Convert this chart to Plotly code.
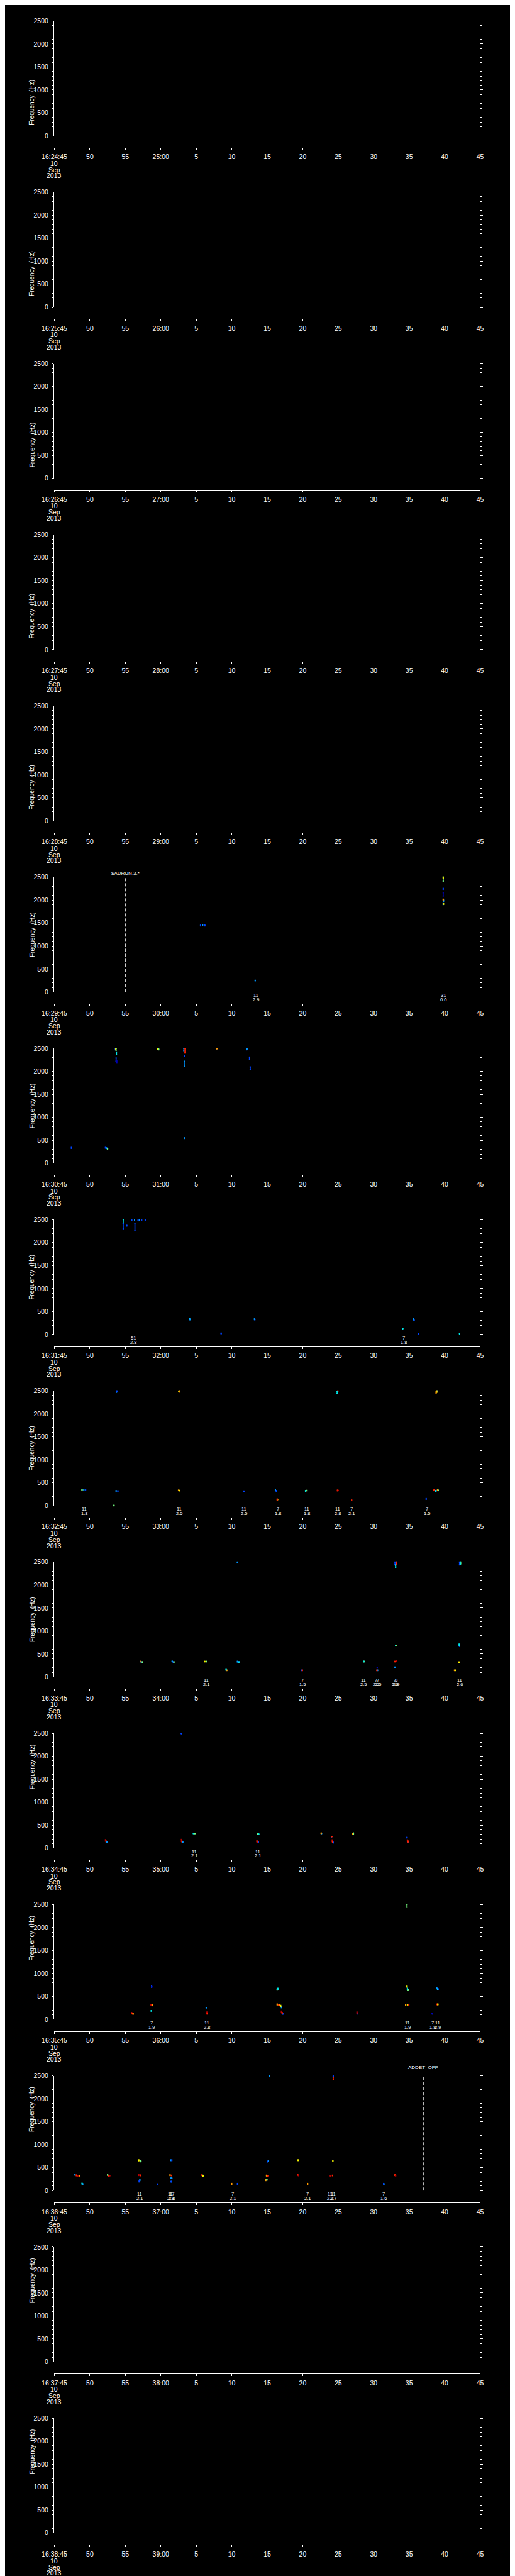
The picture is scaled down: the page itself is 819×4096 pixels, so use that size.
import plotly.graph_objects as go
from datetime import datetime, timedelta

# ---------------- data ----------------
PANEL_STARTS = [
    "2013-09-10 16:24:45", "2013-09-10 16:25:45", "2013-09-10 16:26:45",
    "2013-09-10 16:27:45", "2013-09-10 16:28:45", "2013-09-10 16:29:45",
    "2013-09-10 16:30:45", "2013-09-10 16:31:45", "2013-09-10 16:32:45",
    "2013-09-10 16:33:45", "2013-09-10 16:34:45", "2013-09-10 16:35:45",
    "2013-09-10 16:36:45", "2013-09-10 16:37:45", "2013-09-10 16:38:45",
]
FREQ_TICKS = [0, 500, 1000, 1500, 2000, 2500]

COLORS = {'db': '#0000b4', 'b': '#0044ff', 'lb': '#0096ff', 'c': '#00e6e6',
          'g': '#78ff82', 'y': '#f5f500', 'o': '#ff9a00', 'r': '#ff2200',
          'dr': '#b40000'}

# marks: (seconds after panel start, freq low, freq high, colour key)
MARKS_1629 = [
    (20.6, 1440, 1455, 'b'), (20.9, 1445, 1470, 'lb'), (21.2, 1440, 1460, 'b'),
    (28.3, 245, 255, 'lb'),
    (54.8, 2410, 2500, 'g'), (54.8, 2470, 2500, 'y'), (54.8, 2235, 2255, 'b'),
    (54.8, 2090, 2160, 'db'), (54.8, 2000, 2020, 'o'), (54.85, 1975, 2000, 'lb'),
    (54.8, 1905, 1925, 'lb'), (54.85, 1910, 1920, 'y'),
]
MARKS_1630 = [
    (2.4, 325, 345, 'b'), (7.2, 330, 345, 'b'), (7.35, 320, 335, 'lb'), (7.5, 305, 320, 'g'),
    (8.6, 2470, 2500, 'b'), (8.65, 2470, 2500, 'y'), (8.7, 2460, 2500, 'g'),
    (8.75, 2370, 2420, 'c'), (8.7, 2220, 2290, 'b'), (8.8, 2180, 2230, 'db'),
    (14.55, 2480, 2500, 'y'), (14.7, 2470, 2490, 'g'),
    (18.25, 2450, 2500, 'lb'), (18.4, 2400, 2500, 'r'), (18.3, 2325, 2340, 'b'),
    (18.3, 2110, 2220, 'lb'), (18.3, 540, 555, 'lb'),
    (22.85, 2490, 2500, 'b'), (22.9, 2490, 2500, 'o'),
    (27.1, 2470, 2500, 'b'), (27.15, 2480, 2500, 'lb'), (27.5, 2260, 2310, 'b'),
    (27.6, 2040, 2095, 'b'),
]
MARKS_1631 = [
    (9.7, 2410, 2500, 'c'), (9.7, 2300, 2410, 'b'), (10.2, 2360, 2375, 'b'),
    (10.9, 2480, 2500, 'b'), (11.3, 2480, 2500, 'lb'), (11.8, 2475, 2500, 'b'),
    (12.0, 2480, 2500, 'lb'), (12.3, 2480, 2500, 'b'), (12.8, 2480, 2500, 'b'),
    (11.35, 2265, 2410, 'b'),
    (19.05, 330, 345, 'c'), (19.1, 320, 335, 'lb'), (23.5, 15, 30, 'b'),
    (28.2, 325, 340, 'lb'), (28.25, 320, 330, 'b'), (49.1, 120, 135, 'c'),
    (50.6, 320, 345, 'lb'), (50.7, 300, 320, 'b'), (51.3, 10, 25, 'b'),
    (57.1, 10, 25, 'c'),
]
MARKS_1632 = [
    (3.9, 340, 350, 'g'), (4.15, 340, 350, 'lb'), (4.4, 340, 350, 'b'),
    (8.4, 0, 10, 'g'), (8.7, 315, 330, 'lb'), (8.95, 315, 325, 'b'),
    (8.75, 2470, 2490, 'lb'), (8.8, 2480, 2500, 'b'),
    (17.55, 2480, 2495, 'y'), (17.6, 2475, 2500, 'o'),
    (17.5, 330, 340, 'o'), (17.6, 325, 335, 'y'),
    (26.7, 305, 320, 'b'),
    (31.15, 325, 345, 'lb'), (31.3, 315, 330, 'b'),
    (31.4, 125, 145, 'r'), (31.45, 130, 140, 'y'),
    (35.4, 315, 330, 'c'), (35.6, 325, 335, 'g'),
    (39.85, 2440, 2490, 'c'), (39.95, 2480, 2500, 'r'),
    (39.9, 325, 340, 'r'), (40.0, 330, 335, 'dr'),
    (41.9, 115, 130, 'r'), (52.4, 140, 155, 'b'),
    (53.5, 330, 345, 'r'), (53.7, 315, 330, 'c'), (53.8, 320, 335, 'lb'),
    (54.0, 330, 345, 'o'), (54.1, 330, 340, 'g'),
    (53.8, 2450, 2480, 'o'), (53.9, 2470, 2500, 'y'), (54.0, 2480, 2500, 'b'),
]
MARKS_1633 = [
    (12.1, 330, 340, 'o'), (12.25, 320, 330, 'b'), (12.4, 320, 330, 'g'),
    (16.6, 335, 345, 'lb'), (16.75, 320, 330, 'b'), (16.85, 320, 330, 'g'),
    (21.2, 330, 340, 'y'), (21.4, 330, 340, 'g'),
    (24.2, 150, 165, 'c'), (24.3, 140, 150, 'o'),
    (25.8, 2490, 2500, 'lb'),
    (25.8, 325, 340, 'lb'), (26.0, 320, 330, 'c'), (26.05, 320, 330, 'b'),
    (34.85, 140, 150, 'b'), (34.95, 140, 150, 'r'),
    (43.6, 330, 340, 'c'), (43.65, 330, 340, 'g'),
    (45.5, 195, 205, 'db'), (45.45, 140, 150, 'r'), (45.55, 140, 150, 'lb'),
    (48.0, 2440, 2500, 'b'), (48.2, 2450, 2500, 'r'), (48.1, 2420, 2440, 'c'),
    (48.25, 2490, 2500, 'lb'), (48.1, 2380, 2395, 'c'),
    (48.1, 680, 690, 'c'), (48.15, 680, 690, 'y'),
    (48.0, 330, 340, 'r'), (48.2, 335, 350, 'dr'), (48.0, 205, 215, 'lb'),
    (57.1, 2440, 2500, 'b'), (57.2, 2450, 2500, 'c'), (57.25, 2460, 2500, 'g'),
    (57.05, 690, 715, 'c'), (57.1, 665, 690, 'b'),
    (57.0, 315, 325, 'o'), (57.05, 315, 325, 'y'),
    (56.4, 140, 150, 'o'), (56.5, 140, 150, 'y'),
]
MARKS_1634 = [
    (17.9, 2490, 2500, 'b'),
    (7.2, 155, 185, 'dr'), (7.3, 130, 155, 'r'), (7.4, 130, 140, 'lb'),
    (17.9, 150, 190, 'dr'), (18.0, 130, 150, 'r'), (18.1, 125, 140, 'lb'),
    (19.6, 315, 325, 'c'), (19.8, 315, 325, 'g'),
    (28.6, 300, 310, 'g'), (28.8, 300, 310, 'c'),
    (28.55, 140, 160, 'r'), (28.65, 130, 140, 'dr'), (28.75, 130, 135, 'b'),
    (37.6, 320, 330, 'o'), (37.65, 315, 325, 'lb'),
    (39.05, 245, 255, 'b'), (39.1, 250, 255, 'r'),
    (39.15, 150, 180, 'dr'), (39.2, 130, 150, 'r'), (39.3, 115, 130, 'b'),
    (42.05, 300, 315, 'o'), (42.15, 310, 330, 'g'),
    (49.7, 225, 235, 'b'),
    (49.75, 155, 180, 'dr'), (49.85, 135, 155, 'r'), (49.9, 125, 135, 'b'),
]
MARKS_1635 = [
    (49.7, 2440, 2500, 'g'),
    (13.7, 700, 725, 'b'), (13.75, 705, 715, 'db'),
    (13.6, 315, 325, 'dr'), (13.75, 310, 320, 'r'), (13.85, 300, 315, 'o'),
    (13.65, 180, 190, 'c'),
    (10.9, 130, 150, 'dr'), (11.0, 120, 135, 'r'), (11.1, 115, 125, 'o'),
    (21.4, 250, 260, 'lb'), (21.5, 120, 160, 'dr'), (21.55, 120, 130, 'r'),
    (31.4, 640, 660, 'g'), (31.5, 650, 677, 'c'),
    (31.4, 315, 335, 'o'), (31.6, 305, 320, 'r'), (31.75, 300, 315, 'o'),
    (31.9, 285, 305, 'y'), (32.0, 255, 280, 'lb'),
    (32.0, 150, 180, 'dr'), (32.1, 125, 150, 'r'), (32.2, 115, 130, 'b'),
    (42.65, 135, 160, 'dr'), (42.75, 120, 140, 'b'),
    (49.7, 705, 725, 'y'), (49.75, 650, 680, 'c'), (49.85, 630, 655, 'g'),
    (49.5, 310, 325, 'o'), (49.75, 310, 325, 'y'), (49.95, 310, 325, 'r'),
    (53.9, 670, 690, 'lb'), (54.0, 650, 670, 'c'), (54.1, 645, 665, 'b'),
    (53.95, 320, 335, 'r'), (54.05, 320, 335, 'y'),
    (53.2, 120, 135, 'db'), (53.3, 120, 130, 'b'),
]
MARKS_1636 = [
    (2.9, 340, 355, 'lb'), (3.1, 325, 340, 'r'), (3.3, 315, 330, 'dr'), (3.5, 320, 330, 'o'),
    (3.9, 145, 160, 'c'), (4.0, 140, 150, 'lb'),
    (7.5, 335, 350, 'g'), (7.65, 320, 335, 'r'), (7.8, 320, 330, 'dr'),
    (11.9, 650, 670, 'y'), (12.1, 640, 660, 'g'), (12.2, 630, 645, 'g'),
    (11.9, 330, 350, 'dr'), (12.1, 325, 340, 'r'),
    (12.05, 220, 250, 'lb'), (11.95, 190, 215, 'b'),
    (14.5, 135, 145, 'b'),
    (16.4, 655, 670, 'lb'), (16.55, 655, 670, 'b'),
    (16.3, 330, 345, 'o'), (16.5, 325, 335, 'r'),
    (16.45, 265, 280, 'lb'), (16.55, 265, 275, 'lb'),
    (16.45, 190, 200, 'b'), (16.5, 190, 200, 'lb'),
    (20.8, 330, 345, 'r'), (20.9, 315, 335, 'g'), (20.95, 315, 330, 'y'),
    (25.0, 140, 155, 'o'), (25.8, 140, 155, 'b'),
    (29.8, 220, 240, 'o'), (29.95, 230, 245, 'g'),
    (29.9, 320, 335, 'o'), (30.05, 315, 330, 'r'),
    (30.0, 625, 640, 'b'), (30.15, 635, 650, 'lb'),
    (30.3, 2485, 2500, 'lb'),
    (34.3, 335, 350, 'r'), (34.4, 325, 340, 'dr'), (34.35, 655, 670, 'y'),
    (35.7, 140, 155, 'o'),
    (38.9, 315, 330, 'dr'), (39.2, 325, 335, 'r'), (39.25, 640, 655, 'y'),
    (39.3, 2420, 2470, 'r'), (39.3, 2480, 2500, 'b'),
    (46.4, 140, 155, 'b'), (46.45, 140, 150, 'lb'),
    (48.0, 330, 345, 'r'), (48.1, 320, 335, 'dr'),
]

# labels under the plot: (seconds after panel start, top line, bottom line)
LABELS_1629 = [(28.4, '11', '2.9'), (54.8, '31', '0.0')]
LABELS_1631 = [(11.1, '51', '2.8'), (49.2, '7', '1.8')]
LABELS_1632 = [(4.2, '11', '1.8'), (17.6, '11', '2.5'), (26.7, '11', '2.5'),
               (31.5, '7', '1.8'), (35.6, '11', '1.8'), (39.9, '11', '2.8'),
               (41.9, '7', '2.1'), (52.5, '7', '1.5')]
LABELS_1633 = [(21.4, '11', '2.1'), (35.0, '7', '1.5'), (43.6, '11', '2.5'),
               (45.35, '7', '2.2'), (45.6, '7', '2.5'), (47.95, '7', '2.0'),
               (48.15, '3', '2.9'), (57.1, '11', '2.6')]
LABELS_1634 = [(19.7, '11', '2.1'), (28.7, '11', '2.1')]
LABELS_1635 = [(13.7, '7', '1.9'), (21.5, '11', '2.8'), (49.8, '11', '1.9'),
               (53.3, '7', '1.8'), (54.0, '11', '2.9')]
LABELS_1636 = [(12.0, '11', '2.1'), (16.35, '11', '2.3'), (16.5, '17', '2.8'),
               (25.1, '7', '2.1'), (35.7, '7', '2.1'), (38.9, '11', '2.2'),
               (39.3, '11', '2.7'), (46.4, '7', '1.6')]

# event markers: (panel index, time, text, text offset above plot in ref px)
EVENTS = [(5, "2013-09-10 16:29:55", "$ADRUN,3,*", 16.6),
          (12, "2013-09-10 16:37:37", "ADDET_OFF", 7.3)]

PANEL_MARKS = {5: MARKS_1629, 6: MARKS_1630, 7: MARKS_1631, 8: MARKS_1632,
               9: MARKS_1633, 10: MARKS_1634, 11: MARKS_1635, 12: MARKS_1636}
PANEL_LABELS = {5: LABELS_1629, 7: LABELS_1631, 8: LABELS_1632, 9: LABELS_1633,
                10: LABELS_1634, 11: LABELS_1635, 12: LABELS_1636}

# ---------------- layout ----------------
S = 0.8
W, H = 819, 4096
NP = len(PANEL_STARTS)
PH = H / NP
X0, X1 = 75.5 * S, 949.5 * S
FONT = "Liberation Sans, Arial, sans-serif"
WHITE = "#ffffff"


def yp(px):
    return 1 - px / H


fig = go.Figure()
annotations = []
shapes = []
layout = {}

for i, start in enumerate(PANEL_STARTS):
    n = '' if i == 0 else str(i + 1)
    xa, ya = 'x' + n, 'y' + n
    t0 = datetime.strptime(start, "%Y-%m-%d %H:%M:%S")
    o = i * PH
    ytop, ybot, xline = o + 24.3 * S, o + 253.3 * S, o + 276.7 * S

    tickvals, ticktext = [], []
    for k in range(13):
        t = t0 + timedelta(seconds=5 * k)
        tickvals.append(t)
        if k == 0:
            ticktext.append(t.strftime("%H:%M:%S"))
        elif t.second == 0:
            ticktext.append(t.strftime("%M:%S"))
        else:
            ticktext.append(str(t.second))

    layout['xaxis' + n] = dict(
        domain=[X0 / W, X1 / W], anchor='free', position=yp(xline),
        type='date', range=[t0, t0 + timedelta(seconds=60)],
        tickmode='array', tickvals=tickvals, ticktext=ticktext,
        showline=True, linecolor=WHITE, linewidth=1, ticks='outside',
        ticklen=3, tickwidth=1, tickcolor=WHITE, showgrid=False, zeroline=False,
        tickfont=dict(color=WHITE, size=10.5, family=FONT), ticklabelstandoff=2,
        fixedrange=True)
    layout['yaxis' + n] = dict(
        domain=[yp(ybot), yp(ytop)], anchor=xa, range=[0, 2500],
        tickmode='array', tickvals=FREQ_TICKS,
        showline=True, linecolor=WHITE, linewidth=1, mirror='ticks',
        ticks='outside', ticklen=3.5, tickwidth=1, tickcolor=WHITE,
        minor=dict(dtick=100, ticks='outside', ticklen=2.5, tickcolor=WHITE,
                   tickwidth=1, showgrid=False),
        showgrid=False, zeroline=False,
        tickfont=dict(color=WHITE, size=10.5, family=FONT), ticklabelstandoff=3,
        fixedrange=True)

    # y title
    annotations.append(dict(text="Frequency  (Hz)", textangle=-90, xref='paper', yref='paper',
                            x=16.0 / W, y=yp((ytop + ybot) / 2), showarrow=False,
                            font=dict(color=WHITE, size=10, family=FONT)))
    # date lines under first tick label
    for txt, dy in (("10", 308.3), ("Sep", 320.7), ("2013", 332.7)):
        annotations.append(dict(text=txt, xref='paper', yref='paper', x=X0 / W,
                                y=yp(o + dy * S), showarrow=False, xanchor='center',
                                yanchor='middle',
                                font=dict(color=WHITE, size=10.5, family=FONT)))

    # marks
    marks = PANEL_MARKS.get(i, [])
    groups = {}
    for (t, f0, f1, c) in marks:
        tt = t0 + timedelta(seconds=t)
        g = groups.setdefault(c, ([], []))
        g[0].extend([tt, tt, None])
        g[1].extend([f0, f1, None])
    if not groups:
        fig.add_trace(go.Scatter(x=[t0], y=[None], xaxis=xa, yaxis=ya,
                                 mode='markers', showlegend=False, hoverinfo='skip'))
    for c, (xs, ys) in groups.items():
        fig.add_trace(go.Scatter(x=xs, y=ys, xaxis=xa, yaxis=ya, mode='lines+markers',
                                 line=dict(color=COLORS[c], width=1.6),
                                 marker=dict(color=COLORS[c], size=2, symbol='square',
                                             line=dict(width=0)),
                                 cliponaxis=False, showlegend=False, hoverinfo='skip'))

    # labels below the plot
    for (t, a, b) in PANEL_LABELS.get(i, []):
        tt = t0 + timedelta(seconds=t)
        for txt, dy in ((a, 260.0), (b, 268.7)):
            annotations.append(dict(text=txt, xref=xa, yref='paper', x=tt,
                                    y=yp(o + dy * S), showarrow=False,
                                    xanchor='center', yanchor='middle',
                                    font=dict(color=WHITE, size=7.5, family=FONT)))

for (i, ts, txt, dy) in EVENTS:
    n = '' if i == 0 else str(i + 1)
    o = i * PH
    shapes.append(dict(type='line', xref='x' + n, yref='y' + n, x0=ts, x1=ts,
                       y0=0, y1=2500, line=dict(color=WHITE, width=1, dash='5px,3px')))
    annotations.append(dict(text=txt, xref='x' + n, yref='paper', x=ts,
                            y=yp(o + dy * S), showarrow=False, xanchor='center',
                            yanchor='middle', font=dict(color=WHITE, size=8, family=FONT)))

fig.update_layout(width=W, height=H, margin=dict(l=0, r=0, t=0, b=0),
                  paper_bgcolor='black', plot_bgcolor='black', showlegend=False,
                  annotations=annotations, shapes=shapes, **layout)

fig.write_html("out.html")
